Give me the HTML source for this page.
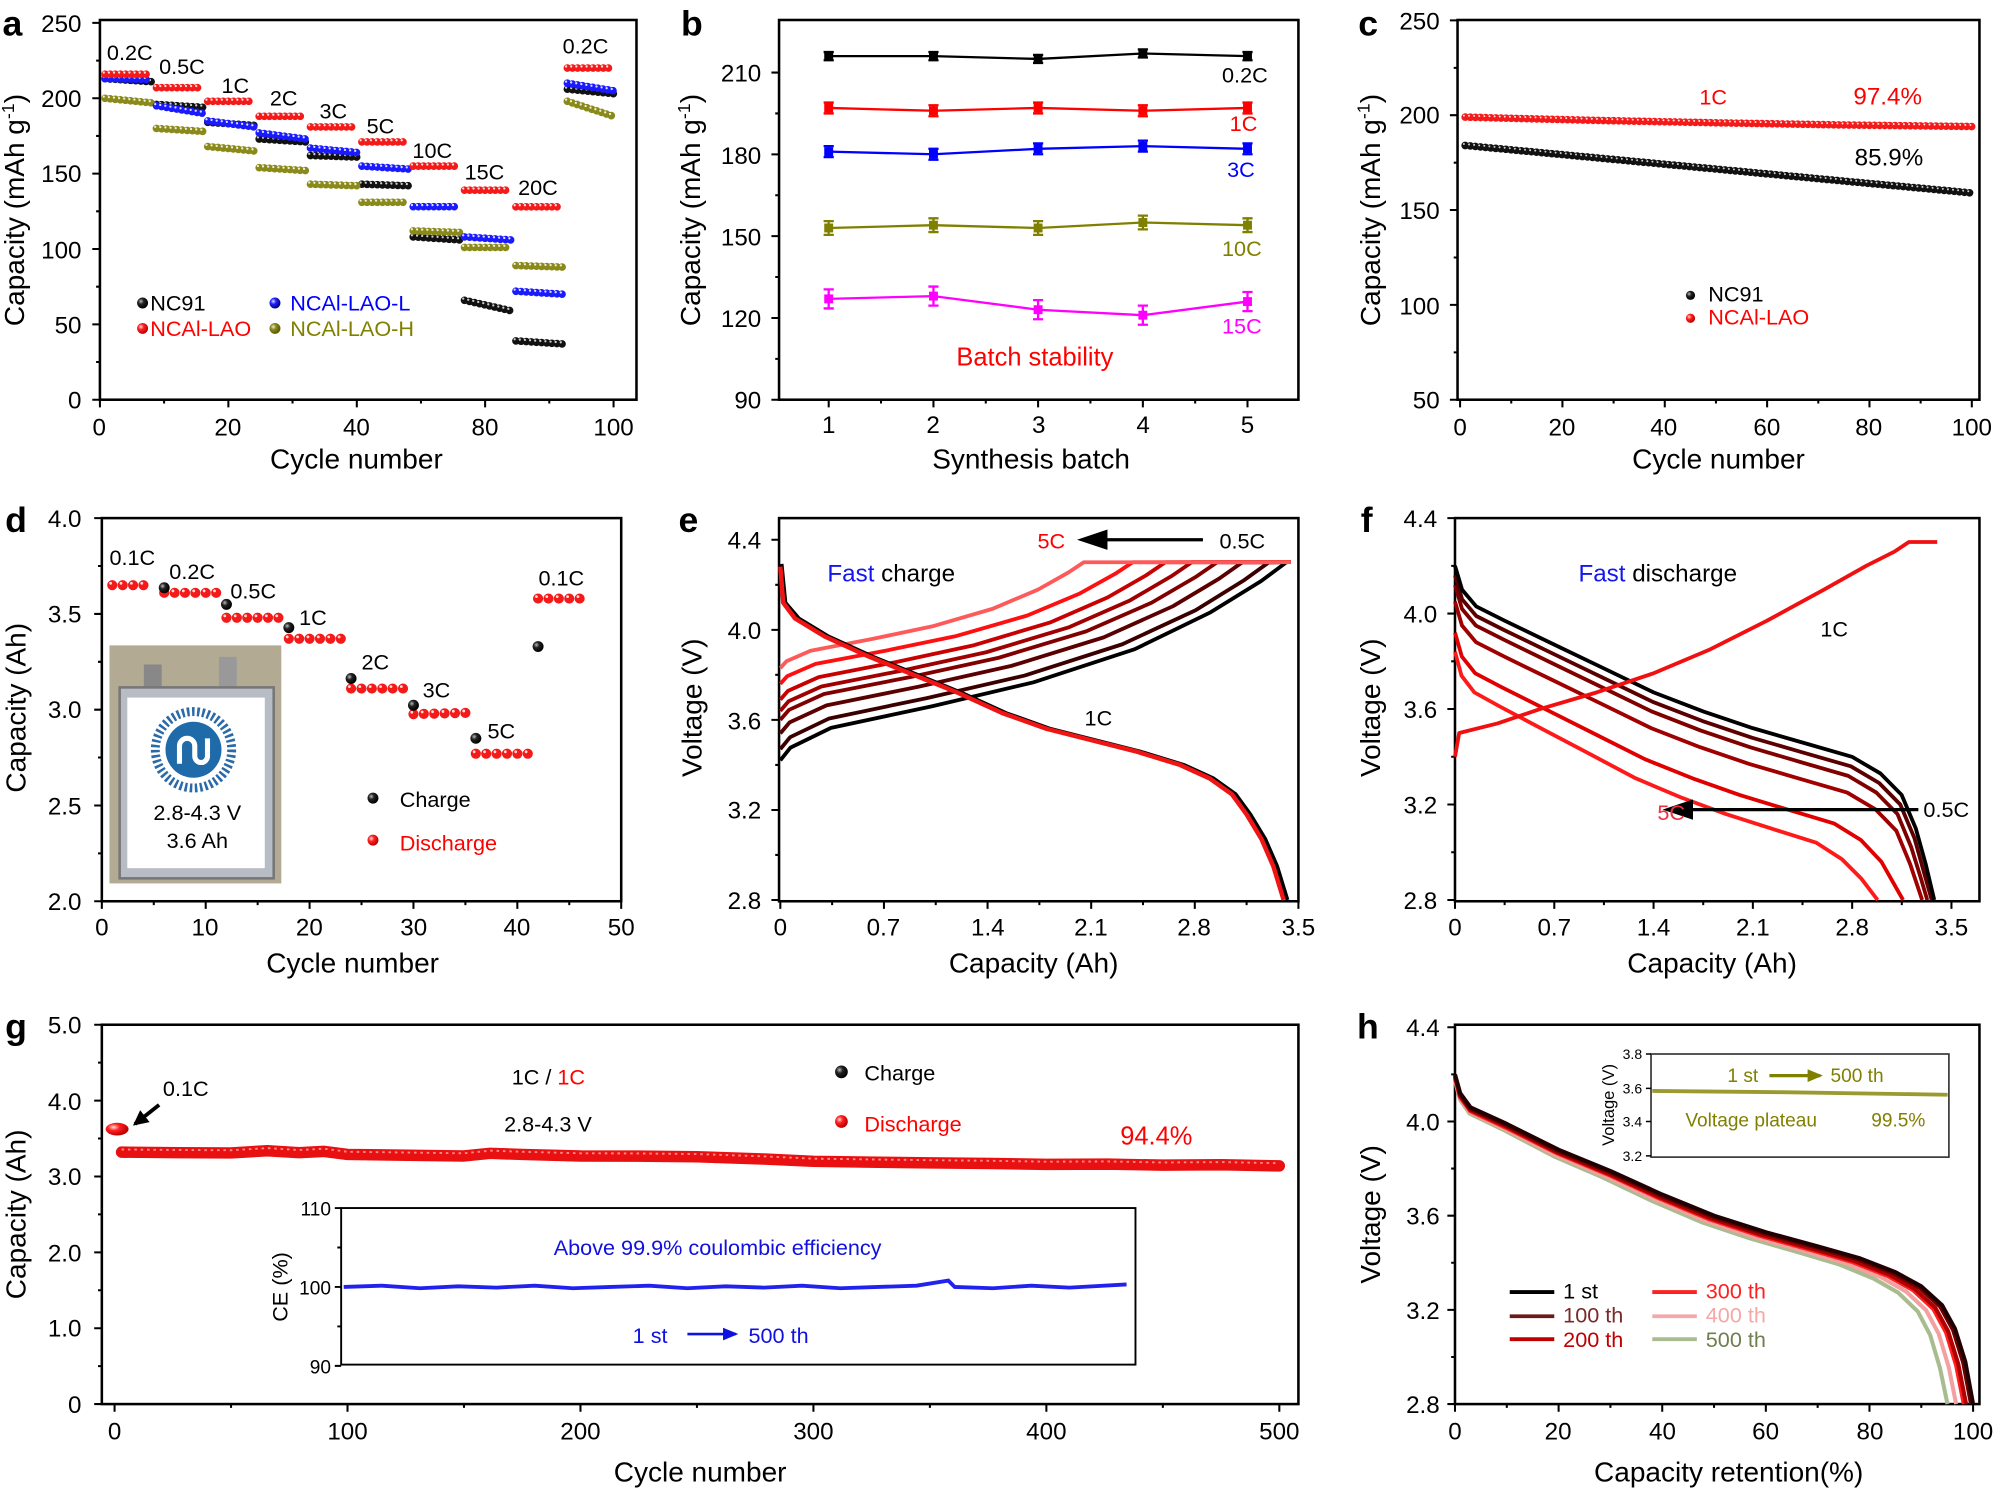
<!DOCTYPE html>
<html><head><meta charset="utf-8"><style>
html,body{margin:0;padding:0;background:#fff}
svg{display:block}
text{font-family:"Liberation Sans",Arial,sans-serif}
</style></head><body>
<svg xmlns="http://www.w3.org/2000/svg" width="1996" height="1490" viewBox="0 0 1568 1170.5" preserveAspectRatio="none">
<defs>
<radialGradient id="gk" cx="35%" cy="35%" r="65%"><stop offset="0" stop-color="#bbb"/><stop offset="0.4" stop-color="#222"/><stop offset="1" stop-color="#000"/></radialGradient>
<radialGradient id="gr" cx="35%" cy="35%" r="65%"><stop offset="0" stop-color="#fdd"/><stop offset="0.4" stop-color="#f22"/><stop offset="1" stop-color="#b00"/></radialGradient>
<radialGradient id="gb" cx="35%" cy="35%" r="65%"><stop offset="0" stop-color="#ddf"/><stop offset="0.4" stop-color="#22f"/><stop offset="1" stop-color="#008"/></radialGradient>
<radialGradient id="go" cx="35%" cy="35%" r="65%"><stop offset="0" stop-color="#eec"/><stop offset="0.4" stop-color="#8a8a20"/><stop offset="1" stop-color="#5a5a00"/></radialGradient>
<marker id="ah" markerWidth="12" markerHeight="12" refX="10" refY="6" orient="auto" markerUnits="userSpaceOnUse"><path d="M0,0 L12,6 L0,12 z" fill="#000"/></marker>
<marker id="ah2" markerWidth="24" markerHeight="16" refX="20" refY="8" orient="auto" markerUnits="userSpaceOnUse"><path d="M0,0 L24,8 L0,16 z" fill="#000"/></marker>
<marker id="aho" markerWidth="12" markerHeight="10" refX="10" refY="5" orient="auto" markerUnits="userSpaceOnUse"><path d="M0,0 L12,5 L0,10 z" fill="#808000"/></marker>
<marker id="ahb" markerWidth="12" markerHeight="10" refX="10" refY="5" orient="auto" markerUnits="userSpaceOnUse"><path d="M0,0 L12,5 L0,10 z" fill="#1010e0"/></marker>
</defs>

<g fill="none" stroke="#000" stroke-width="2">
<rect x="78.5" y="15.7" width="421.5" height="298.3"/>
<rect x="612" y="15.7" width="408" height="298.3"/>
<rect x="1145" y="15.7" width="410" height="298.3"/>
<rect x="80" y="407" width="408" height="301"/>
<rect x="612" y="407" width="408" height="301"/>
<rect x="1143" y="407" width="412" height="301"/>
<rect x="80" y="805" width="940" height="298"/>
<rect x="1143" y="805" width="412" height="298"/>
</g>
<g stroke="#000" stroke-width="1.6" fill="none">
<path d="M78.5,314v6M179.4,314v6M280.3,314v6M381.1,314v6M482,314v6M128.9,314v3M229.8,314v3M330.7,314v3M431.5,314v3M78.5,18h-6M78.5,77.2h-6M78.5,136.4h-6M78.5,195.6h-6M78.5,254.8h-6M78.5,314h-6M78.5,47.6h-3M78.5,106.8h-3M78.5,166h-3M78.5,225.2h-3M78.5,284.4h-3"/>
<path d="M651,314v6M733.3,314v6M815.5,314v6M897.8,314v6M980,314v6M692.1,314v3M774.4,314v3M856.6,314v3M938.9,314v3M612,57h-6M612,121.3h-6M612,185.5h-6M612,249.8h-6M612,314h-6M612,89.1h-3M612,153.4h-3M612,217.6h-3M612,281.9h-3"/>
<path d="M1147,314v6M1227.4,314v6M1307.8,314v6M1388.2,314v6M1468.6,314v6M1549,314v6M1187.2,314v3M1267.6,314v3M1348,314v3M1428.4,314v3M1508.8,314v3M1145,16h-6M1145,90.5h-6M1145,165h-6M1145,239.5h-6M1145,314h-6M1145,53.3h-3M1145,127.8h-3M1145,202.3h-3M1145,276.8h-3"/>
<path d="M80,708v6M161.6,708v6M243.2,708v6M324.8,708v6M406.4,708v6M488,708v6M120.8,708v3M202.4,708v3M284,708v3M365.6,708v3M447.2,708v3M80,407h-6M80,482.3h-6M80,557.5h-6M80,632.8h-6M80,708h-6M80,444.6h-3M80,519.9h-3M80,595.1h-3M80,670.4h-3"/>
<path d="M613,708v6M694.4,708v6M775.8,708v6M857.2,708v6M938.6,708v6M1020,708v6M653.7,708v3M735.1,708v3M816.5,708v3M897.9,708v3M979.3,708v3M612,424h-6M612,494.8h-6M612,565.5h-6M612,636.3h-6M612,707h-6M612,459.4h-3M612,530.1h-3M612,600.9h-3M612,671.6h-3"/>
<path d="M1143,708v6M1221,708v6M1299,708v6M1377,708v6M1455,708v6M1533,708v6M1182,708v3M1260,708v3M1338,708v3M1416,708v3M1494,708v3M1143,407h-6M1143,482h-6M1143,557h-6M1143,632h-6M1143,707h-6M1143,444.5h-3M1143,519.5h-3M1143,594.5h-3M1143,669.5h-3"/>
<path d="M90,1103v6M273,1103v6M456,1103v6M639,1103v6M822,1103v6M1005,1103v6M181.5,1103v3M364.5,1103v3M547.5,1103v3M730.5,1103v3M913.5,1103v3M80,805h-6M80,864.6h-6M80,924.2h-6M80,983.8h-6M80,1043.4h-6M80,1103h-6M80,834.8h-3M80,894.4h-3M80,954h-3M80,1013.6h-3M80,1073.2h-3"/>
<path d="M1143,1103v6M1224.4,1103v6M1305.8,1103v6M1387.2,1103v6M1468.6,1103v6M1550,1103v6M1183.7,1103v3M1265.1,1103v3M1346.5,1103v3M1427.9,1103v3M1509.3,1103v3M1143,807h-6M1143,881h-6M1143,955h-6M1143,1029h-6M1143,1103h-6M1143,844h-3M1143,918h-3M1143,992h-3M1143,1066h-3"/>
</g>

<!-- panel a data -->
<g fill="none" stroke-linecap="round" stroke-width="6" stroke-dasharray="0 4.035">
<path id="pk" stroke="#111" d="M82.5,61.8L118.8,64.2M122.9,82L159.2,84.3M163.2,96.1L199.5,98.5M203.6,109.2L239.9,111.5M243.9,122.2L280.2,123.4M284.3,144.7L320.6,145.9M324.6,186.1L360.9,188.5M364.9,235.9L401.2,244.1M405.3,267.8L441.6,270.2M445.7,70.1L482,73.6"/>
<path stroke="#ccc" stroke-width="1.8" transform="translate(-1,-1.3)" d="M82.5,61.8L118.8,64.2M122.9,82L159.2,84.3M163.2,96.1L199.5,98.5M203.6,109.2L239.9,111.5M243.9,122.2L280.2,123.4M284.3,144.7L320.6,145.9M324.6,186.1L360.9,188.5M364.9,235.9L401.2,244.1M405.3,267.8L441.6,270.2M445.7,70.1L482,73.6"/>
<path stroke="#8a8a1a" d="M82.5,77.2L118.8,80.8M122.9,100.9L159.2,103.2M163.2,115.1L199.5,118.6M203.6,131.7L239.9,134M243.9,144.7L280.2,145.9M284.3,158.9L320.6,158.9M324.6,181.4L360.9,182.6M364.9,194.4L401.2,194.4M405.3,208.6L441.6,209.8M445.7,79.6L482,91.4"/>
<path stroke="#eed" stroke-width="1.8" transform="translate(-1,-1.3)" d="M82.5,77.2L118.8,80.8M122.9,100.9L159.2,103.2M163.2,115.1L199.5,118.6M203.6,131.7L239.9,134M243.9,144.7L280.2,145.9M284.3,158.9L320.6,158.9M324.6,181.4L360.9,182.6M364.9,194.4L401.2,194.4M405.3,208.6L441.6,209.8M445.7,79.6L482,91.4"/>
<path stroke="#1a1aff" d="M82.5,61.8L118.8,62.5M122.9,83.1L159.2,89M163.2,95L199.5,99.7M203.6,104.4L239.9,109.2M243.9,116.3L280.2,119.8M284.3,130.5L320.6,132.8M324.6,162.4L360.9,162.4M364.9,186.1L401.2,188.5M405.3,228.8L441.6,231.1M445.7,65.4L482,71.3"/>
<path stroke="#ddf" stroke-width="1.8" transform="translate(-1,-1.3)" d="M82.5,61.8L118.8,62.5M122.9,83.1L159.2,89M163.2,95L199.5,99.7M203.6,104.4L239.9,109.2M243.9,116.3L280.2,119.8M284.3,130.5L320.6,132.8M324.6,162.4L360.9,162.4M364.9,186.1L401.2,188.5M405.3,228.8L441.6,231.1M445.7,65.4L482,71.3"/>
<path stroke="#f41a1a" d="M82.5,58.3L118.8,58.3M122.9,68.9L159.2,68.9M163.2,79.6L199.5,79.6M203.6,91.4L239.9,91.4M243.9,99.7L280.2,99.7M284.3,111.5L320.6,111.5M324.6,130.5L360.9,130.5M364.9,149.4L401.2,149.4M405.3,162.5L441.6,162.5M445.7,53.5L482,53.5"/>
<path stroke="#fdd" stroke-width="1.8" transform="translate(-1,-1.3)" d="M82.5,58.3L118.8,58.3M122.9,68.9L159.2,68.9M163.2,79.6L199.5,79.6M203.6,91.4L239.9,91.4M243.9,99.7L280.2,99.7M284.3,111.5L320.6,111.5M324.6,130.5L360.9,130.5M364.9,149.4L401.2,149.4M405.3,162.5L441.6,162.5M445.7,53.5L482,53.5"/>
</g>
<circle cx="112" cy="238" r="4.3" fill="url(#gk)"/><circle cx="112" cy="258" r="4.3" fill="url(#gr)"/><circle cx="216" cy="238" r="4.3" fill="url(#gb)"/><circle cx="216" cy="258" r="4.3" fill="url(#go)"/>

<!-- panel b data -->
<g fill="none" stroke-width="1.8">
<polyline stroke="#000" points="651,44.1 733.3,44.1 815.5,46.3 897.8,42 980,44.1"/>
<path stroke="#000" d="M651,40.9V47.3M647,40.9h8M647,47.3h8M733.3,40.9V47.3M729.3,40.9h8M729.3,47.3h8M815.5,43.1V49.5M811.5,43.1h8M811.5,49.5h8M897.8,38.8V45.2M893.8,38.8h8M893.8,45.2h8M980,40.9V47.3M976,40.9h8M976,47.3h8"/>
<polyline stroke="#f00" points="651,84.8 733.3,87 815.5,84.8 897.8,87 980,84.8"/>
<path stroke="#f00" d="M651,80.5V89.1M647,80.5h8M647,89.1h8M733.3,82.7V91.3M729.3,82.7h8M729.3,91.3h8M815.5,80.5V89.1M811.5,80.5h8M811.5,89.1h8M897.8,82.7V91.3M893.8,82.7h8M893.8,91.3h8M980,80.5V89.1M976,80.5h8M976,89.1h8"/>
<polyline stroke="#00f" points="651,119.1 733.3,121.2 815.5,116.9 897.8,114.8 980,116.9"/>
<path stroke="#00f" d="M651,114.8V123.4M647,114.8h8M647,123.4h8M733.3,116.9V125.5M729.3,116.9h8M729.3,125.5h8M815.5,112.6V121.2M811.5,112.6h8M811.5,121.2h8M897.8,110.5V119.1M893.8,110.5h8M893.8,119.1h8M980,112.6V121.2M976,112.6h8M976,121.2h8"/>
<polyline stroke="#808000" points="651,179.1 733.3,176.9 815.5,179.1 897.8,174.8 980,176.9"/>
<path stroke="#808000" d="M651,173.7V184.5M647,173.7h8M647,184.5h8M733.3,171.5V182.3M729.3,171.5h8M729.3,182.3h8M815.5,173.7V184.5M811.5,173.7h8M811.5,184.5h8M897.8,169.4V180.2M893.8,169.4h8M893.8,180.2h8M980,171.5V182.3M976,171.5h8M976,182.3h8"/>
<polyline stroke="#f0f" points="651,234.8 733.3,232.6 815.5,243.3 897.8,247.6 980,236.9"/>
<path stroke="#f0f" d="M651,227.3V242.3M647,227.3h8M647,242.3h8M733.3,225.1V240.1M729.3,225.1h8M729.3,240.1h8M815.5,235.8V250.8M811.5,235.8h8M811.5,250.8h8M897.8,240.1V255.1M893.8,240.1h8M893.8,255.1h8M980,229.4V244.4M976,229.4h8M976,244.4h8"/>
</g>
<g>
<rect x="647.5" y="40.6" width="7" height="7"/><rect x="729.8" y="40.6" width="7" height="7"/><rect x="812" y="42.8" width="7" height="7"/><rect x="894.3" y="38.5" width="7" height="7"/><rect x="976.5" y="40.6" width="7" height="7"/>
<g fill="#f00"><rect x="647.5" y="81.3" width="7" height="7"/><rect x="729.8" y="83.5" width="7" height="7"/><rect x="812" y="81.3" width="7" height="7"/><rect x="894.3" y="83.5" width="7" height="7"/><rect x="976.5" y="81.3" width="7" height="7"/></g>
<g fill="#00f"><rect x="647.5" y="115.6" width="7" height="7"/><rect x="729.8" y="117.7" width="7" height="7"/><rect x="812" y="113.4" width="7" height="7"/><rect x="894.3" y="111.3" width="7" height="7"/><rect x="976.5" y="113.4" width="7" height="7"/></g>
<g fill="#808000"><rect x="647.5" y="175.6" width="7" height="7"/><rect x="729.8" y="173.4" width="7" height="7"/><rect x="812" y="175.6" width="7" height="7"/><rect x="894.3" y="171.3" width="7" height="7"/><rect x="976.5" y="173.4" width="7" height="7"/></g>
<g fill="#f0f"><rect x="647.5" y="231.3" width="7" height="7"/><rect x="729.8" y="229.1" width="7" height="7"/><rect x="812" y="239.8" width="7" height="7"/><rect x="894.3" y="244.1" width="7" height="7"/><rect x="976.5" y="233.4" width="7" height="7"/></g>
</g>

<!-- panel c data -->
<g fill="none" stroke-linecap="round" stroke-width="6" stroke-dasharray="0 4.02">
<path stroke="#111" d="M1151,114.3L1200,118.9L1250,123.6L1300,128.3L1350,133L1400,137.7L1451,142.5L1500,147L1549,151.6"/>
<path stroke="#ccc" stroke-width="1.6" transform="translate(-1,-1.2)" d="M1151,114.3L1200,118.9L1250,123.6L1300,128.3L1350,133L1400,137.7L1451,142.5L1500,147L1549,151.6"/>
<path stroke="#f41a1a" d="M1151,92L1250,94.5L1350,96.5L1450,98.2L1549,99.4"/>
<path stroke="#fdd" stroke-width="1.6" transform="translate(-1,-1.2)" d="M1151,92L1250,94.5L1350,96.5L1450,98.2L1549,99.4"/>
</g>
<circle cx="1328" cy="232" r="3.6" fill="url(#gk)"/><circle cx="1328" cy="250" r="3.6" fill="url(#gr)"/>

<!-- panel d data -->
<g fill="none" stroke-linecap="round" stroke-dasharray="0 8.16">
<path stroke="#f41a1a" stroke-width="8" d="M88.2,459.7L120.8,459.7M129,465.7L169.8,465.7M177.9,485.3L218.7,485.3M226.9,501.8L267.7,501.8M275.8,540.9L316.6,540.9M324.8,561L365.6,560M373.8,592.1L414.6,592.1M422.7,470.2L463.5,470.2"/>
<path stroke="#fdd" stroke-width="2.2" transform="translate(-1.3,-1.5)" d="M88.2,459.7L120.8,459.7M129,465.7L169.8,465.7M177.9,485.3L218.7,485.3M226.9,501.8L267.7,501.8M275.8,540.9L316.6,540.9M324.8,561L365.6,560M373.8,592.1L414.6,592.1M422.7,470.2L463.5,470.2"/>
</g>
<g fill="url(#gk)"><circle cx="129" cy="461.7" r="4.3"/><circle cx="177.9" cy="474.8" r="4.3"/><circle cx="226.9" cy="493" r="4.3"/><circle cx="275.8" cy="533" r="4.3"/><circle cx="324.8" cy="554" r="4.3"/><circle cx="373.8" cy="580" r="4.3"/><circle cx="422.7" cy="507.9" r="4.3"/></g>
<circle cx="293" cy="627" r="4.3" fill="url(#gk)"/><circle cx="293" cy="660" r="4.3" fill="url(#gr)"/>

<!-- photo inset d -->
<g>
<rect x="86" y="507" width="135" height="187" fill="#b3aa94"/>
<rect x="113" y="522" width="14" height="22" fill="#888"/>
<rect x="172" y="516" width="14" height="28" fill="#999"/>
<rect x="94" y="540" width="121" height="150" fill="#b8bcc4" stroke="#777" stroke-width="2"/>
<rect x="100" y="548" width="108" height="134" fill="#fff"/>
<circle cx="152" cy="589" r="30" fill="none" stroke="#2a6aa8" stroke-width="7" stroke-dasharray="2 2"/>
<circle cx="152" cy="589" r="22" fill="#1f6aa8"/>
<path d="M141,600 v-14 a6,6 0 0 1 12,0 v8 a5,5 0 0 0 10,0 v-14" fill="none" stroke="#fff" stroke-width="4"/>
<text x="155" y="644" font-size="17" text-anchor="middle">2.8-4.3 V</text>
<text x="155" y="666" font-size="17" text-anchor="middle">3.6 Ah</text>
</g>

<!-- panel e data -->
<g fill="none" stroke-width="3" stroke-linejoin="round">
<polyline stroke="#000" points="613,597.3 621,587.3 652.8,571.8 732.3,554.8 811.9,536 891.4,510 951,481 990.8,456.4 1010.7,441.6 1014,441.6"/>
<polyline stroke="#3a0000" points="613,588.5 620.7,579.1 651.4,564.4 728.1,548.4 804.9,530.7 881.7,506.1 939.2,479.4 977.6,455.6 996.8,441.7 1014,441.6"/>
<polyline stroke="#5a0000" points="613,576.1 620.3,567.5 649.3,554.1 721.9,539.4 794.5,523.1 867,500.7 921.5,476.2 957.8,454.5 975.9,441.7 1014,441.6"/>
<polyline stroke="#800000" points="613,565.5 619.9,557.6 647.3,545.2 715.9,531.7 784.6,516.7 853.2,496 904.6,473.5 938.9,453.5 956.1,441.7 1014,441.6"/>
<polyline stroke="#a00000" points="613,558.4 619.5,550.9 645.3,539.3 710,526.5 774.7,512.4 839.3,492.9 887.8,471.6 920.1,452.7 936.3,441.6 1014,441.6"/>
<polyline stroke="#c80000" points="613,549.6 619,542.7 643.2,531.9 703.7,520.1 764.2,507.1 824.7,489.1 870,469.4 900.3,452 915.4,441.7 1014,441.6"/>
<polyline stroke="#ff1010" points="613,537.2 618.5,531.1 640.7,521.5 696,511.1 751.4,499.6 806.8,483.6 848.3,466.2 876,450.8 889.8,441.7 1014,441.6"/>
<polyline stroke="#ff5a5a" points="613,524.8 617.8,519.5 636.8,511.2 684.5,502.1 732.2,492.1 779.9,478.2 815.6,463.1 839.5,449.6 851.4,441.7 1014,441.6"/>
<polyline stroke="#000" points="614,443 617,473.5 627.6,485.9 650.9,500 685.8,515.9 720.7,530.1 755.6,544.3 790.5,560.2 825.3,572.6 860.2,581.4 895.1,590.2 930,600.9 953.3,611.5 970.7,623.9 982.3,639.8 994,659.2 1003.3,680.5 1011.4,707"/>
<polyline stroke="#f01515" stroke-width="3.5" points="613,445.2 615.3,473.5 624.6,485.9 647.9,500 682.8,515.9 717.7,530.1 752.6,544.3 787.5,560.2 822.3,572.6 857.2,581.4 892.1,590.2 927,600.9 950.3,611.5 967.7,623.9 979.3,639.8 991,659.2 1000.3,680.5 1008.4,707"/>
</g>
<line x1="945" y1="424" x2="850" y2="424" stroke="#000" stroke-width="2.5" marker-end="url(#ah2)"/>

<!-- panel f data -->
<g fill="none" stroke-width="3" stroke-linejoin="round">
<polyline stroke="#ff1a1a" points="1143,512 1148.1,530.8 1158.2,543.9 1178.4,555.1 1213.9,573.9 1249.4,592.6 1284.9,611.4 1320.4,626.4 1355.8,639.5 1391.3,650.8 1426.8,662 1447,675 1462,690 1475,707"/>
<polyline stroke="#e00000" points="1143,497 1148.4,515.8 1158.9,528.9 1180.2,540.1 1217.6,558.9 1254.8,577.6 1292.2,596.4 1329.5,611.4 1366.5,624.5 1403.7,635.8 1441,647 1462,660 1478,677 1495,707"/>
<polyline stroke="#a00000" points="1143,472.6 1148.5,491.4 1159.5,504.5 1181.5,515.7 1220.1,534.5 1258.6,553.2 1297.1,572 1335.6,587 1374.1,600.1 1412.6,611.4 1451.1,622.6 1473.2,635.7 1489.7,652.6 1500.6,678.9 1510,707"/>
<polyline stroke="#800000" points="1143,459.5 1148.5,478.3 1159.4,491.4 1181.6,502.6 1220.2,521.4 1258.8,540.1 1297.5,558.9 1336.1,573.9 1374.7,587 1413.3,598.3 1451.9,609.5 1474,622.6 1490.6,639.5 1501.5,665.8 1509,690 1514,707"/>
<polyline stroke="#5a0000" points="1143,452 1148.6,470.8 1159.7,483.9 1181.9,495.1 1220.8,513.9 1259.6,532.6 1298.5,551.4 1337.4,566.4 1376.2,579.5 1415.1,590.8 1454,602 1476.2,615.1 1492.8,632 1503.9,658.3 1511.7,686.4 1517.5,707"/>
<polyline stroke="#000" points="1143,444.5 1148.6,463.3 1159.7,476.4 1182,487.6 1221,506.4 1260,525.1 1299,543.9 1338,558.9 1376.9,572 1415.9,583.3 1454.9,594.5 1477.2,607.6 1493.9,624.5 1505,650.8 1512.8,678.9 1519.5,707"/>
<polyline stroke="#f01010" points="1143,594.5 1146.3,575.8 1176.4,568.3 1209.8,557 1254.4,543.9 1299,528.9 1343.5,510.1 1388.1,487.6 1432.6,463.3 1466.1,444.5 1488.3,433.3 1499.5,425.8 1521.8,425.8"/>
</g>
<line x1="1507" y1="636" x2="1310" y2="636" stroke="#000" stroke-width="2.5" marker-end="url(#ah2)"/>

<!-- panel g data -->
<polyline fill="none" stroke="#e81010" stroke-width="9" stroke-linejoin="round" stroke-linecap="round" points="95.5,905.1 140,905.5 181.5,905.7 210,904 235,905.5 254.7,904.5 273,906.9 320,907.5 364.5,908.1 385,906 410.3,906.9 456,908.1 500,908.2 547.5,908.7 600,910.5 639,912.3 690,913 730.5,913.5 780,914 822,914.7 870,914.5 913.5,915.3 960,915 1005,915.9"/>
<polyline fill="none" stroke="#f88" stroke-width="1.5" stroke-dasharray="2 3" points="95.5,903 140,903.4 181.5,903.6 210,901.9 235,903.4 254.7,902.4 273,904.8 320,905.4 364.5,906 385,903.9 410.3,904.8 456,906 500,906.1 547.5,906.6 600,908.4 639,910.2 690,910.9 730.5,911.4 780,911.9 822,912.6 870,912.4 913.5,913.2 960,912.9 1005,913.8"/>
<ellipse cx="92" cy="887" rx="9" ry="5" fill="url(#gr)"/>
<line x1="125" y1="868" x2="106" y2="883" stroke="#000" stroke-width="3" marker-end="url(#ah)"/>
<circle cx="661" cy="842" r="5" fill="url(#gk)"/><circle cx="661" cy="881" r="5" fill="url(#gr)"/>
<rect x="268" y="949" width="624" height="123" fill="#fff" stroke="#000" stroke-width="1.5"/>
<path d="M268,949h-5M268,1011h-5M268,1073h-5M268,980h-3M268,1042h-3" stroke="#000" stroke-width="1.5"/>
<polyline fill="none" stroke="#2222ee" stroke-width="3" points="270,1011 300,1010 330,1012 360,1010.5 390,1011.5 420,1010 450,1012 480,1011 510,1010 540,1012 570,1010.5 600,1011.5 630,1010 660,1012 690,1011 720,1010 745,1006 750,1011 780,1012 810,1010 840,1011.5 885,1009"/>
<line x1="540" y1="1048" x2="578" y2="1048" stroke="#1010e0" stroke-width="2" marker-end="url(#ahb)"/>

<!-- panel h data -->
<g fill="none" stroke-width="3.2" stroke-linejoin="round">
<polyline stroke="#a8bc90" points="1143,849 1146.9,863.8 1154.6,874.9 1181.7,887.9 1220.3,908.2 1259,924.9 1297.7,943.4 1336.4,960 1375.1,973 1413.8,984.1 1444.8,993.3 1471.9,1004.4 1491.2,1015.5 1506.6,1030.3 1516.3,1048.8 1524,1074.7 1529.9,1103"/>
<polyline stroke="#f4a0a0" points="1143,848 1147,862.8 1154.8,873.9 1182.4,886.9 1221.8,907.2 1261.1,923.9 1300.5,942.4 1339.9,959 1379.2,972 1418.6,983.1 1450.1,992.3 1477.7,1003.4 1497.3,1014.5 1513.1,1029.3 1523,1047.8 1530.8,1073.7 1536.7,1103"/>
<polyline stroke="#ff2020" points="1143,847 1147,861.8 1155,872.9 1183,885.9 1223.6,906.2 1263.5,922.9 1303.4,941.4 1343.2,958 1383.1,971 1423,982.1 1454.9,991.3 1482.9,1002.4 1502.8,1013.5 1518.8,1028.3 1528.8,1046.8 1536.7,1072.7 1542.7,1103"/>
<polyline stroke="#b00000" points="1143,846 1147,860.8 1155,871.9 1183.1,884.9 1223.2,905.2 1263.3,921.9 1303.5,940.4 1343.6,957 1383.7,970 1423.9,981.1 1456,990.3 1484.2,1001.4 1504.2,1012.5 1520.3,1027.3 1530.4,1045.8 1538.4,1071.7 1544.5,1103"/>
<polyline stroke="#6b0000" points="1143,845 1147.1,859.8 1155.2,870.9 1183.5,883.9 1224,904.2 1264.6,920.9 1305.2,939.4 1345.7,956 1386.3,969 1426.8,980.1 1459.3,989.3 1487.6,1000.4 1507.9,1011.5 1524.1,1026.3 1534.3,1044.8 1542.3,1070.7 1548.4,1103"/>
<polyline stroke="#200000" points="1143,844 1147.1,858.8 1155.2,869.9 1183.7,882.9 1224.4,903.2 1265.1,919.9 1305.8,938.4 1346.5,955 1387.2,968 1427.9,979.1 1460.5,988.3 1489,999.4 1509.3,1010.5 1525.6,1025.3 1535.8,1043.8 1543.9,1069.7 1550,1103"/>
</g>
<rect x="1297" y="828" width="234" height="81" fill="#fff" stroke="#333" stroke-width="1.3"/>
<path d="M1297,828h-4M1297,855h-4M1297,881h-4M1297,908h-4" stroke="#000" stroke-width="1.2"/>
<polyline fill="none" stroke="#9a9a30" stroke-width="3" points="1298,857 1400,858 1530,860"/>
<line x1="1390" y1="845" x2="1430" y2="845" stroke="#808000" stroke-width="2.5" marker-end="url(#aho)"/>
<g stroke-width="3"><line x1="1186" y1="1015" x2="1221" y2="1015" stroke="#000"/><line x1="1186" y1="1034" x2="1221" y2="1034" stroke="#6b1a1a"/><line x1="1186" y1="1052" x2="1221" y2="1052" stroke="#c00000"/><line x1="1298" y1="1015" x2="1333" y2="1015" stroke="#ff2020"/><line x1="1298" y1="1034" x2="1333" y2="1034" stroke="#f4a8a8"/><line x1="1298" y1="1052" x2="1333" y2="1052" stroke="#a8bc90"/></g>

<g font-size="28" font-weight="bold">
<text x="2" y="28">a</text><text x="535" y="28">b</text><text x="1067" y="28">c</text>
<text x="4" y="418">d</text><text x="533" y="418">e</text><text x="1069" y="418">f</text>
<text x="4" y="816">g</text><text x="1066" y="816">h</text>
</g>

<g font-size="19">
<g text-anchor="end"><text x="64" y="25">250</text><text x="64" y="84">200</text><text x="64" y="143">150</text><text x="64" y="203">100</text><text x="64" y="262">50</text><text x="64" y="321">0</text></g>
<g text-anchor="middle"><text x="78" y="342">0</text><text x="179" y="342">20</text><text x="280" y="342">40</text><text x="381" y="342">80</text><text x="482" y="342">100</text></g>
<g text-anchor="end"><text x="598" y="64">210</text><text x="598" y="129">180</text><text x="598" y="193">150</text><text x="598" y="257">120</text><text x="598" y="321">90</text></g>
<g text-anchor="middle"><text x="651" y="340">1</text><text x="733" y="340">2</text><text x="816" y="340">3</text><text x="898" y="340">4</text><text x="980" y="340">5</text></g>
<g text-anchor="end"><text x="1131" y="23">250</text><text x="1131" y="97">200</text><text x="1131" y="172">150</text><text x="1131" y="247">100</text><text x="1131" y="321">50</text></g>
<g text-anchor="middle"><text x="1147" y="342">0</text><text x="1227" y="342">20</text><text x="1307" y="342">40</text><text x="1388" y="342">60</text><text x="1468" y="342">80</text><text x="1549" y="342">100</text></g>
<g text-anchor="end"><text x="64" y="414">4.0</text><text x="64" y="489">3.5</text><text x="64" y="564">3.0</text><text x="64" y="640">2.5</text><text x="64" y="715">2.0</text></g>
<g text-anchor="middle"><text x="80" y="735">0</text><text x="161" y="735">10</text><text x="243" y="735">20</text><text x="325" y="735">30</text><text x="406" y="735">40</text><text x="488" y="735">50</text></g>
<g text-anchor="end"><text x="598" y="431">4.4</text><text x="598" y="502">4.0</text><text x="598" y="573">3.6</text><text x="598" y="643">3.2</text><text x="598" y="714">2.8</text></g>
<g text-anchor="middle"><text x="613" y="735">0</text><text x="694" y="735">0.7</text><text x="776" y="735">1.4</text><text x="857" y="735">2.1</text><text x="938" y="735">2.8</text><text x="1020" y="735">3.5</text></g>
<g text-anchor="end"><text x="1129" y="414">4.4</text><text x="1129" y="489">4.0</text><text x="1129" y="564">3.6</text><text x="1129" y="639">3.2</text><text x="1129" y="714">2.8</text></g>
<g text-anchor="middle"><text x="1143" y="735">0</text><text x="1221" y="735">0.7</text><text x="1299" y="735">1.4</text><text x="1377" y="735">2.1</text><text x="1455" y="735">2.8</text><text x="1533" y="735">3.5</text></g>
<g text-anchor="end"><text x="64" y="812">5.0</text><text x="64" y="872">4.0</text><text x="64" y="931">3.0</text><text x="64" y="991">2.0</text><text x="64" y="1050">1.0</text><text x="64" y="1110">0</text></g>
<g text-anchor="middle"><text x="90" y="1131">0</text><text x="273" y="1131">100</text><text x="456" y="1131">200</text><text x="639" y="1131">300</text><text x="822" y="1131">400</text><text x="1005" y="1131">500</text></g>
<g text-anchor="end"><text x="1131" y="814">4.4</text><text x="1131" y="888">4.0</text><text x="1131" y="962">3.6</text><text x="1131" y="1036">3.2</text><text x="1131" y="1110">2.8</text></g>
<g text-anchor="middle"><text x="1143" y="1131">0</text><text x="1224" y="1131">20</text><text x="1306" y="1131">40</text><text x="1387" y="1131">60</text><text x="1469" y="1131">80</text><text x="1550" y="1131">100</text></g>
</g>

<g font-size="22" text-anchor="middle">
<text transform="translate(19,165) rotate(-90)">Capacity (mAh g<tspan font-size="14" dy="-8">-1</tspan><tspan dy="8">)</tspan></text>
<text x="280" y="368">Cycle number</text>
<text transform="translate(550,165) rotate(-90)">Capacity (mAh g<tspan font-size="14" dy="-8">-1</tspan><tspan dy="8">)</tspan></text>
<text x="810" y="368">Synthesis batch</text>
<text transform="translate(1084,165) rotate(-90)">Capacity (mAh g<tspan font-size="14" dy="-8">-1</tspan><tspan dy="8">)</tspan></text>
<text x="1350" y="368">Cycle number</text>
<text transform="translate(20,556) rotate(-90)">Capacity (Ah)</text>
<text x="277" y="764">Cycle number</text>
<text transform="translate(551,556) rotate(-90)">Voltage (V)</text>
<text x="812" y="764">Capacity (Ah)</text>
<text transform="translate(1084,556) rotate(-90)">Voltage (V)</text>
<text x="1345" y="764">Capacity (Ah)</text>
<text transform="translate(20,954) rotate(-90)">Capacity (Ah)</text>
<text x="550" y="1164">Cycle number</text>
<text transform="translate(1084,954) rotate(-90)">Voltage (V)</text>
<text x="1358" y="1164">Capacity retention(%)</text>
</g>

<g font-size="17">
<text x="84" y="47">0.2C</text><text x="125" y="58">0.5C</text><text x="174" y="73">1C</text><text x="212" y="83">2C</text><text x="251" y="93">3C</text><text x="288" y="105">5C</text><text x="324" y="124">10C</text><text x="365" y="141">15C</text><text x="407" y="153">20C</text><text x="442" y="42">0.2C</text>
<text x="118" y="244">NC91</text><text x="118" y="264" fill="#f00">NCAl-LAO</text><text x="228" y="244" fill="#00f">NCAl-LAO-L</text><text x="228" y="264" fill="#808000">NCAl-LAO-H</text>
<text x="960" y="65">0.2C</text><text x="966" y="103" fill="#f00">1C</text><text x="964" y="139" fill="#00f">3C</text><text x="960" y="201" fill="#808000">10C</text><text x="960" y="262" fill="#f0f">15C</text>
<text x="813" y="287" font-size="20" fill="#f00" text-anchor="middle">Batch stability</text>
<text x="1335" y="82" fill="#f00">1C</text><text x="1456" y="82" fill="#f00" font-size="19">97.4%</text><text x="1457" y="130" font-size="19">85.9%</text>
<text x="1342" y="237">NC91</text><text x="1342" y="255" fill="#f00">NCAl-LAO</text>
<text x="86" y="444">0.1C</text><text x="133" y="455">0.2C</text><text x="181" y="470">0.5C</text><text x="235" y="491">1C</text><text x="284" y="526">2C</text><text x="332" y="548">3C</text><text x="383" y="580">5C</text><text x="423" y="460">0.1C</text>
<text x="314" y="634">Charge</text><text x="314" y="668" fill="#f00">Discharge</text>
<text x="815" y="431" fill="#f00">5C</text><text x="958" y="431">0.5C</text>
<text x="650" y="457" font-size="19"><tspan fill="#1515f0">Fast</tspan> charge</text>
<text x="852" y="570">1C</text>
<text x="1240" y="457" font-size="19"><tspan fill="#1515f0">Fast</tspan> discharge</text>
<text x="1430" y="500">1C</text><text x="1511" y="642">0.5C</text><text x="1302" y="644" fill="#f03040">5C</text>
<text x="128" y="861">0.1C</text>
<text x="402" y="852">1C / <tspan fill="#f00">1C</tspan></text><text x="396" y="889">2.8-4.3 V</text>
<text x="679" y="849">Charge</text><text x="679" y="889" fill="#f00">Discharge</text>
<text x="880" y="899" fill="#f00" font-size="20">94.4%</text>
<text x="435" y="986" fill="#1010e0">Above 99.9% coulombic efficiency</text>
<text x="497" y="1055" fill="#1010e0">1 st</text><text x="588" y="1055" fill="#1010e0">500 th</text>
<text x="1228" y="1020">1 st</text><text x="1228" y="1039" fill="#7b2a2a">100 th</text><text x="1228" y="1058" fill="#c00000">200 th</text>
<text x="1340" y="1020" fill="#ff2020">300 th</text><text x="1340" y="1039" fill="#f4a8a8">400 th</text><text x="1340" y="1058" fill="#6f7f4f">500 th</text>
</g>
<g font-size="15" fill="#808000"><text x="1357" y="850">1 st</text><text x="1438" y="850">500 th</text><text x="1324" y="885">Voltage plateau</text><text x="1470" y="885">99.5%</text></g>
<g font-size="11" text-anchor="end"><text x="1290" y="832">3.8</text><text x="1290" y="859">3.6</text><text x="1290" y="885">3.4</text><text x="1290" y="912">3.2</text></g>
<text transform="translate(1268,868) rotate(-90)" font-size="13" text-anchor="middle">Voltage (V)</text>
<g font-size="15" text-anchor="end"><text x="260" y="955">110</text><text x="260" y="1017">100</text><text x="260" y="1079">90</text></g>
<text transform="translate(226,1011) rotate(-90)" font-size="17" text-anchor="middle">CE (%)</text>
</svg>
</body></html>
